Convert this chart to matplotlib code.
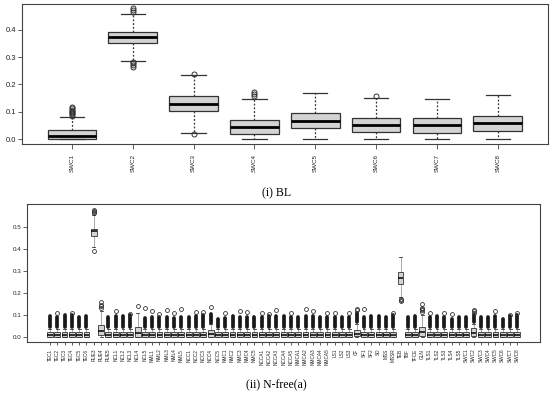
import matplotlib
matplotlib.use("Agg")
import matplotlib.pyplot as plt

# ---- (i) BL : eight SWC features ----
bl_labels = ["SWC1", "SWC2", "SWC3", "SWC4", "SWC5", "SWC6", "SWC7", "SWC8"]
bl_q1 = [0.0, 0.350, 0.101, 0.018, 0.041, 0.026, 0.023, 0.030]
bl_med = [0.011, 0.372, 0.130, 0.046, 0.067, 0.051, 0.051, 0.057]
bl_q3 = [0.035, 0.393, 0.156, 0.069, 0.095, 0.078, 0.077, 0.083]
bl_lo = [0.0, 0.286, 0.024, 0.0, 0.0, 0.0, 0.0, 0.0]
bl_hi = [0.081, 0.457, 0.235, 0.146, 0.167, 0.151, 0.148, 0.160]
bl_fliers = [
    [0.086, 0.090, 0.094, 0.098, 0.103, 0.108, 0.112, 0.117],
    [0.265, 0.272, 0.279, 0.283, 0.466, 0.473, 0.480],
    [0.017, 0.238],
    [0.157, 0.165, 0.172],
    [],
    [0.158],
    [],
    [],
]

# ---- (ii) N-free(a) : 65 features ----
nf_labels = ["TEC1", "TEC2", "TEC3", "TEC4", "TEC5", "TEC6", "RUE3", "RUE4", "RUE5",
             "NCL1", "NCL2", "NCL3", "NCL4", "NCL5", "NML1", "NML2", "NML3", "NML4", "NML5",
             "NCC1", "NCC2", "NCC3", "NCC4", "NCC5", "NMC1", "NMC2", "NMC3", "NMC4", "NMC5",
             "NCCA1", "NCCA2", "NCCA3", "NCCA4", "NCCA5",
             "NMCA1", "NMCA2", "NMCA3", "NMCA4", "NMCA5",
             "LS1", "LS2", "LS3", "CF", "SF1", "SF2", "SD", "MSS", "MSSR",
             "TEB", "TBF", "TFCE", "GLN", "TLS1", "TLS2", "TLS3", "TLS4", "TLS5",
             "SWC1", "SWC2", "SWC3", "SWC4", "SWC5", "SWC6", "SWC7", "SWC8"]
nf_q1 = [0.002, 0.002, 0.002, 0.002, 0.002, 0.002, 0.461, 0.012, 0.002,
         0.002, 0.002, 0.002, 0.003, 0.002, 0.002, 0.002, 0.002, 0.002, 0.002,
         0.002, 0.002, 0.002, 0.002, 0.002, 0.002, 0.002, 0.002, 0.002, 0.002,
         0.002, 0.002, 0.002, 0.002, 0.002,
         0.002, 0.002, 0.002, 0.002, 0.002,
         0.002, 0.002, 0.002, 0.004, 0.002, 0.002, 0.002, 0.002, 0.002,
         0.240, 0.002, 0.002, 0.006, 0.002, 0.002, 0.002, 0.002, 0.002,
         0.002, 0.005, 0.002, 0.002, 0.002, 0.002, 0.002, 0.002]
nf_med = [0.011, 0.011, 0.011, 0.011, 0.011, 0.011, 0.482, 0.030, 0.011,
          0.011, 0.011, 0.011, 0.021, 0.011, 0.011, 0.011, 0.011, 0.011, 0.011,
          0.011, 0.011, 0.011, 0.015, 0.011, 0.011, 0.011, 0.011, 0.011, 0.011,
          0.011, 0.011, 0.011, 0.011, 0.011,
          0.011, 0.011, 0.011, 0.011, 0.011,
          0.011, 0.011, 0.011, 0.016, 0.011, 0.011, 0.011, 0.011, 0.011,
          0.267, 0.011, 0.011, 0.025, 0.011, 0.011, 0.011, 0.011, 0.011,
          0.011, 0.020, 0.011, 0.011, 0.011, 0.011, 0.011, 0.011]
nf_q3 = [0.022, 0.022, 0.022, 0.022, 0.022, 0.022, 0.493, 0.057, 0.022,
         0.022, 0.022, 0.022, 0.047, 0.022, 0.022, 0.022, 0.022, 0.022, 0.022,
         0.022, 0.022, 0.022, 0.033, 0.022, 0.022, 0.022, 0.022, 0.022, 0.022,
         0.022, 0.022, 0.022, 0.022, 0.022,
         0.022, 0.022, 0.022, 0.022, 0.022,
         0.022, 0.022, 0.022, 0.033, 0.022, 0.022, 0.022, 0.022, 0.022,
         0.294, 0.022, 0.022, 0.048, 0.022, 0.022, 0.022, 0.022, 0.022,
         0.022, 0.040, 0.022, 0.022, 0.022, 0.022, 0.022, 0.022]
nf_lo = [0.0, 0.0, 0.0, 0.0, 0.0, 0.0, 0.410, 0.0, 0.0,
         0.0, 0.0, 0.0, 0.0, 0.0, 0.0, 0.0, 0.0, 0.0, 0.0,
         0.0, 0.0, 0.0, 0.0, 0.0, 0.0, 0.0, 0.0, 0.0, 0.0,
         0.0, 0.0, 0.0, 0.0, 0.0,
         0.0, 0.0, 0.0, 0.0, 0.0,
         0.0, 0.0, 0.0, 0.0, 0.0, 0.0, 0.0, 0.0, 0.0,
         0.184, 0.0, 0.0, 0.0, 0.0, 0.0, 0.0, 0.0, 0.0,
         0.0, 0.0, 0.0, 0.0, 0.0, 0.0, 0.0, 0.0]
nf_hi = [0.036, 0.036, 0.036, 0.036, 0.036, 0.036, 0.553, 0.120, 0.036,
         0.036, 0.036, 0.036, 0.110, 0.036, 0.036, 0.036, 0.036, 0.036, 0.036,
         0.036, 0.036, 0.036, 0.058, 0.036, 0.036, 0.036, 0.036, 0.036, 0.036,
         0.036, 0.036, 0.036, 0.036, 0.036,
         0.036, 0.036, 0.036, 0.036, 0.036,
         0.036, 0.036, 0.036, 0.058, 0.036, 0.036, 0.036, 0.036, 0.036,
         0.365, 0.036, 0.036, 0.100, 0.036, 0.036, 0.036, 0.036, 0.036,
         0.036, 0.060, 0.036, 0.036, 0.036, 0.036, 0.036, 0.036]
# range covered by the densely overlapping outlier circles (None = no such band)
nf_dense_lo = [0.048, 0.048, 0.048, 0.048, 0.048, 0.048, None, None, 0.048,
               0.048, 0.048, 0.048, None, 0.048, 0.048, 0.048, 0.048, 0.048, 0.048,
               0.048, 0.048, 0.048, 0.066, 0.048, 0.048, 0.048, 0.048, 0.048, 0.048,
               0.048, 0.048, 0.048, 0.048, 0.048,
               0.048, 0.048, 0.048, 0.048, 0.048,
               0.048, 0.048, 0.048, 0.068, 0.048, 0.048, 0.048, 0.048, 0.048,
               None, 0.048, 0.048, None, 0.048, 0.048, 0.048, 0.048, 0.048,
               0.048, 0.068, 0.048, 0.048, 0.048, 0.048, 0.048, 0.048]
nf_dense_hi = [0.097, 0.090, 0.100, 0.100, 0.093, 0.095, None, None, 0.090,
               0.095, 0.095, 0.100, None, 0.088, 0.092, 0.092, 0.090, 0.088, 0.090,
               0.090, 0.095, 0.100, 0.105, 0.085, 0.088, 0.095, 0.090, 0.092, 0.090,
               0.090, 0.095, 0.095, 0.095, 0.092,
               0.090, 0.098, 0.095, 0.090, 0.093,
               0.090, 0.090, 0.092, 0.112, 0.090, 0.095, 0.095, 0.092, 0.100,
               None, 0.090, 0.095, None, 0.090, 0.095, 0.090, 0.085, 0.090,
               0.090, 0.100, 0.093, 0.090, 0.095, 0.085, 0.095, 0.100]
nf_fliers = [[], [0.110], [], [0.108], [], [],
             [0.389, 0.562, 0.567, 0.572, 0.576], [0.134, 0.141, 0.147, 0.162], [],
             [0.120], [], [0.106], [0.140], [0.133],
             [0.120], [0.106], [0.124], [0.108], [0.128],
             [], [0.116], [0.113], [0.136], [],
             [0.108], [], [0.120], [0.116], [],
             [0.108], [0.105], [0.124], [], [0.110],
             [], [0.128], [0.120], [], [0.109],
             [0.112], [], [0.109], [0.122, 0.130], [0.127], [], [], [], [0.112],
             [0.166, 0.169, 0.172], [], [], [0.116, 0.122, 0.128, 0.135, 0.150],
             [0.110], [], [0.109], [0.105], [],
             [], [0.110, 0.118, 0.125], [], [], [0.120], [], [0.100], [0.108]]

BOX_FILL = "#d3d3d3"
EDGE = "#333333"
FRAME = "#444444"


def make_stats(q1, med, q3, lo, hi, fliers):
    return [dict(q1=a, med=b, q3=c, whislo=d, whishi=e, fliers=f)
            for a, b, c, d, e, f in zip(q1, med, q3, lo, hi, fliers)]


def style_axes(ax, labelsize_y, labelsize_x):
    for sp in ax.spines.values():
        sp.set_color(FRAME)
        sp.set_linewidth(0.8)
    ax.tick_params(axis="y", labelsize=labelsize_y, length=3, width=0.6,
                   color=FRAME, labelcolor="#222222", pad=1.5)
    ax.tick_params(axis="x", labelsize=labelsize_x, length=3.5, width=0.6,
                   color=FRAME, labelcolor="#222222", pad=4, rotation=90)


plt.rcParams["font.family"] = ["Liberation Sans", "DejaVu Sans"]
fig = plt.figure(figsize=(5.5, 3.99), dpi=100)

# top panel
ax1 = fig.add_axes([22 / 550, 1 - 144 / 399, 525.6 / 550, 140 / 399])
ax1.bxp(make_stats(bl_q1, bl_med, bl_q3, bl_lo, bl_hi, bl_fliers),
        positions=range(1, 9), widths=0.8, capwidths=0.4, patch_artist=True,
        boxprops=dict(facecolor=BOX_FILL, edgecolor=EDGE, linewidth=0.9),
        medianprops=dict(color="black", linewidth=2.0),
        whiskerprops=dict(color=EDGE, linewidth=0.9, linestyle=(0, (1.5, 1.5))),
        capprops=dict(color=EDGE, linewidth=0.9),
        flierprops=dict(marker="o", markerfacecolor="none", markeredgecolor=EDGE,
                        markersize=3.6, markeredgewidth=0.7))
ax1.set_xlim(0.18, 8.82)
ax1.set_ylim(-0.018, 0.494)
ax1.set_yticks([0.0, 0.1, 0.2, 0.3, 0.4])
ax1.set_yticklabels(["0.0", "0.1", "0.2", "0.3", "0.4"])
ax1.set_xticks(range(1, 9))
ax1.set_xticklabels(bl_labels)
style_axes(ax1, 5.5, 4.5)
fig.text(0.503, 1 - 193 / 399, "(i) BL", ha="center", va="center",
         fontsize=8.5, family=["Liberation Serif", "DejaVu Serif"])

# bottom panel
n = len(nf_labels)
ax2 = fig.add_axes([27.3 / 550, 1 - 341.7 / 399, 512.7 / 550, 137.4 / 399])
for i in range(n):
    if nf_dense_lo[i] is not None:
        ax2.plot([i + 1, i + 1], [nf_dense_lo[i], nf_dense_hi[i]], color="#1a1a1a",
                 linewidth=2.7, solid_capstyle="round", zorder=1)
ax2.bxp(make_stats(nf_q1, nf_med, nf_q3, nf_lo, nf_hi, nf_fliers),
        positions=range(1, n + 1), widths=0.8, capwidths=0.4, patch_artist=True,
        boxprops=dict(facecolor=BOX_FILL, edgecolor=EDGE, linewidth=0.6),
        medianprops=dict(color="black", linewidth=1.1),
        whiskerprops=dict(color=EDGE, linewidth=0.6, linestyle=(0, (1.2, 1.2))),
        capprops=dict(color=EDGE, linewidth=0.6),
        flierprops=dict(marker="o", markerfacecolor="none", markeredgecolor=EDGE,
                        markersize=2.8, markeredgewidth=0.6))
ax2.set_xlim(-2.1, 68.1)
ax2.set_ylim(-0.02, 0.603)
ax2.set_yticks([0.0, 0.1, 0.2, 0.3, 0.4, 0.5])
ax2.set_yticklabels(["0.0", "0.1", "0.2", "0.3", "0.4", "0.5"])
ax2.set_xticks(range(1, n + 1))
ax2.set_xticklabels(nf_labels)
style_axes(ax2, 4.5, 3.4)
ax2.tick_params(axis="x", length=2.5, pad=2.5)
fig.text(0.503, 1 - 385 / 399, "(ii) N-free(a)", ha="center", va="center",
         fontsize=8.5, family=["Liberation Serif", "DejaVu Serif"])

fig.savefig("out.png", dpi=100)
